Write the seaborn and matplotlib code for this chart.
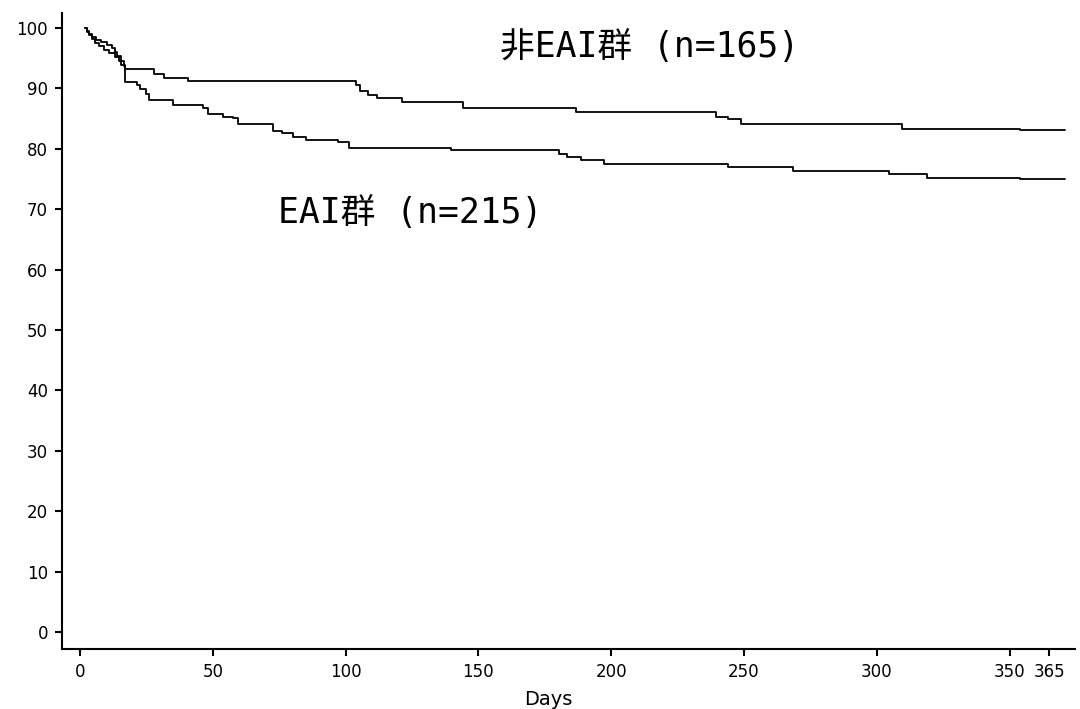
import pandas as pd
import matplotlib
matplotlib.use("Agg")
import matplotlib.pyplot as plt
import seaborn as sns

# Kaplan-Meier style step data (day, survival %)
non_eai_days = [2, 2.8, 3.5, 4.5, 5.5, 7, 9, 11, 13, 14.5, 15.5, 17.0, 27.9, 31.6, 40.6,
                103.9, 105.4, 108.4, 111.8, 121.2, 144.1, 186.7, 239.4, 243.9, 248.8,
                309.4, 353.8, 371]
non_eai_surv = [100, 99.4, 98.8, 98.2, 97.6, 97.0, 96.4, 95.8, 95.2, 94.5, 93.9, 93.2, 92.4,
                91.7, 91.2, 90.6, 89.6, 88.9, 88.4, 87.7, 86.8, 86.1, 85.3, 84.9, 84.1,
                83.3, 83.1, 83.1]

eai_days = [2, 2.8, 3.5, 4.5, 6, 8, 10, 12, 13, 14, 15.5, 16.5, 17.0, 21.5, 22.6, 24.8,
            26.0, 35.0, 46.3, 48.2, 53.8, 57.6, 59.5, 72.6, 76.0, 80.2, 85.1, 97.1,
            101.2, 139.6, 180.3, 183.3, 188.6, 197.2, 243.9, 268.3, 304.5, 318.8,
            353.8, 371]
eai_surv = [100, 99.5, 99.0, 98.6, 98.1, 97.7, 97.2, 96.7, 96.0, 95.3, 94.6, 93.7, 91.1,
            90.6, 89.9, 89.1, 88.1, 87.3, 86.8, 85.8, 85.3, 85.1, 84.1, 83.0, 82.6,
            82.0, 81.5, 81.1, 80.1, 79.8, 79.1, 78.6, 78.1, 77.5, 77.0, 76.3, 75.8,
            75.2, 75.0, 75.0]

x_ticks = [0, 50, 100, 150, 200, 250, 300, 350, 365]
y_ticks = [0, 10, 20, 30, 40, 50, 60, 70, 80, 90, 100]

label_non_eai = "非EAI群 (n=165)"
label_eai = "EAI群 (n=215)"

df = pd.concat([
    pd.DataFrame({"Days": non_eai_days, "surv": non_eai_surv, "group": "non"}),
    pd.DataFrame({"Days": eai_days, "surv": eai_surv, "group": "eai"}),
])

sns.set_style("ticks")
plt.rcParams["font.family"] = ["DejaVu Sans", "Noto Sans CJK JP"]

fig = plt.figure(figsize=(10.8, 7.09), dpi=100)
ax = fig.add_axes([0.0574, 0.0846, 0.9376, 0.8971])

sns.lineplot(data=df, x="Days", y="surv", hue="group", palette=["black", "black"],
             drawstyle="steps-post", estimator=None, legend=False, linewidth=1.3, ax=ax)

ax.set_xlim(-6.8, 374.5)
ax.set_ylim(-2.8, 102.5)
ax.set_xticks(x_ticks)
ax.set_yticks(y_ticks)
ax.tick_params(axis="both", direction="out", length=5, width=1.5, labelsize=12,
               color="black", labelcolor="black", pad=5)
ax.set_ylabel("")
ax.set_xlabel("Days", fontsize=14, color="black")
ax.xaxis.set_label_coords(0.48, -0.065)
for side in ["top", "right"]:
    ax.spines[side].set_visible(False)
for side in ["left", "bottom"]:
    ax.spines[side].set_linewidth(1.5)
    ax.spines[side].set_color("black")

# monospaced Latin next to CJK, like the original's half-width/full-width text
lab_font = ["DejaVu Sans Mono", "Noto Sans CJK JP"]
ax.text(158, 96.9, label_non_eai, fontsize=25, ha="left", va="center", family=lab_font,
        color="black")
ax.text(74.5, 69.4, label_eai, fontsize=25, ha="left", va="center", family=lab_font,
        color="black")

fig.savefig("out.png", dpi=100, facecolor="white")
